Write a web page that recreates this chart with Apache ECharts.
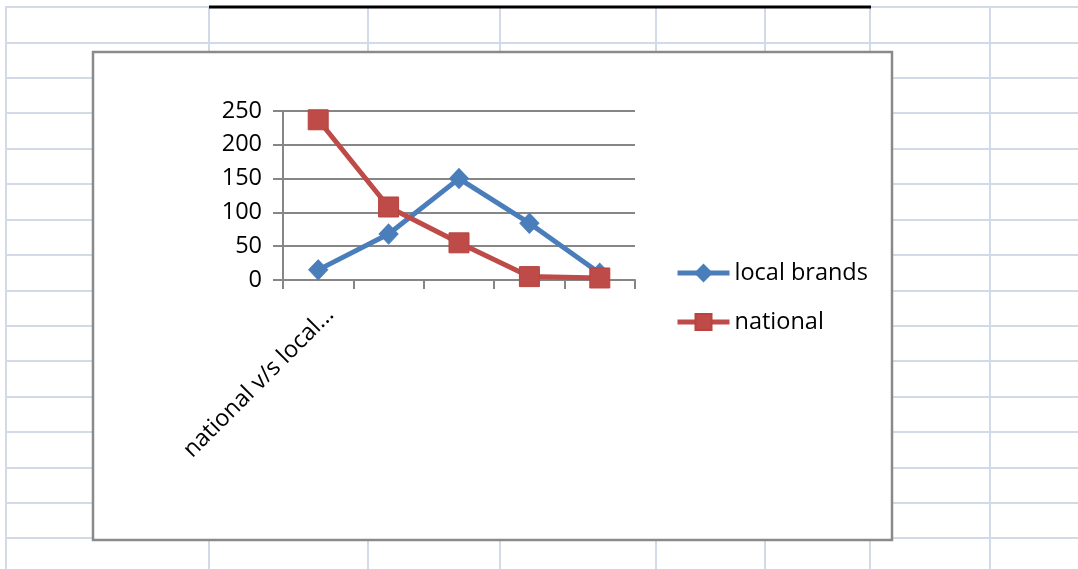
<!DOCTYPE html>
<html>
<head>
<meta charset="utf-8">
<script src="https://cdn.jsdelivr.net/npm/echarts@6/dist/echarts.min.js"></script>
<style>
  html, body { margin: 0; padding: 0; background: #ffffff; }
  #chart { width: 1078px; height: 569px; }
</style>
</head>
<body>
<div id="chart"></div>
<script>
// Chart data
const categories = ['national v/s local...', '', '', '', ''];
const localBrands = [15, 68, 150, 84, 10];
const national = [237, 108, 55, 5, 3];
const seriesNames = ['local brands', 'national'];
const yMin = 0, yMax = 250, yStep = 50;

// Worksheet cell grid behind the chart object (pixel layout)
const sheetRows = [7, 43, 78, 113, 149, 184, 220, 255, 291, 326, 361, 397, 432, 468, 503, 538];
const sheetCols = [6, 209, 368, 500, 656, 765, 870, 990];

const FONT = 'Open Sans';
const FONT_SIZE = 23.5;
const AXIS_GREY = '#868686';
const BLUE = '#4a7ebb';
const RED = '#be4b48';
const LINE_W = 5;

const sheetGraphics = [];
sheetRows.forEach(function (y) {
  sheetGraphics.push({
    type: 'line', z: -20, silent: true,
    shape: { x1: 6, y1: y, x2: 1078, y2: y },
    style: { stroke: '#d3dae7', lineWidth: 2 }
  });
});
sheetCols.forEach(function (x) {
  sheetGraphics.push({
    type: 'line', z: -20, silent: true,
    shape: { x1: x, y1: 6, x2: x, y2: 569 },
    style: { stroke: '#d3dae7', lineWidth: 2 }
  });
});
// selected-range border along the top row
sheetGraphics.push({
  type: 'line', z: -19, silent: true,
  shape: { x1: 209, y1: 7, x2: 871, y2: 7 },
  style: { stroke: '#000000', lineWidth: 3 }
});
// chart object frame
sheetGraphics.push({
  type: 'rect', z: -10, silent: true,
  shape: { x: 93, y: 52, width: 799, height: 488 },
  style: { fill: '#ffffff', stroke: '#8a8a8a', lineWidth: 2.5 }
});

const chart = echarts.init(document.getElementById('chart'), null, { renderer: 'canvas' });

chart.setOption({
  animation: false,
  backgroundColor: 'transparent',
  textStyle: { fontFamily: FONT },
  graphic: { elements: sheetGraphics },
  grid: { left: 283, top: 111, width: 352, height: 169, containLabel: false },
  legend: {
    orient: 'vertical',
    left: 670,
    top: 256,
    itemWidth: 52,
    itemHeight: 20,
    itemGap: 25,
    textStyle: { fontFamily: FONT, fontSize: FONT_SIZE, color: '#000000' },
    lineStyle: { width: LINE_W },
    data: seriesNames
  },
  xAxis: {
    type: 'category',
    data: categories,
    boundaryGap: true,
    axisLine: { show: true, lineStyle: { color: AXIS_GREY, width: 2 } },
    axisTick: { show: true, alignWithLabel: false, interval: 0, length: 9, lineStyle: { color: AXIS_GREY, width: 2 } },
    axisLabel: {
      interval: 0, rotate: 45, margin: 19,
      align: 'right', verticalAlign: 'top', padding: [5, 0, 0, 0],
      fontFamily: FONT, fontSize: FONT_SIZE, color: '#000000'
    },
    splitLine: { show: false }
  },
  yAxis: {
    type: 'value',
    min: yMin, max: yMax, interval: yStep,
    axisLine: { show: true, lineStyle: { color: AXIS_GREY, width: 2 } },
    axisTick: { show: true, length: 10, lineStyle: { color: AXIS_GREY, width: 2 } },
    axisLabel: { margin: 21, fontFamily: FONT, fontSize: FONT_SIZE, color: '#000000' },
    splitLine: { show: true, lineStyle: { color: AXIS_GREY, width: 2 } }
  },
  series: [
    {
      name: seriesNames[0],
      type: 'line',
      data: localBrands,
      symbol: 'diamond',
      symbolSize: [19, 20],
      showAllSymbol: true,
      lineStyle: { color: BLUE, width: LINE_W },
      itemStyle: { color: BLUE, borderColor: BLUE, borderWidth: 1 },
      z: 3
    },
    {
      name: seriesNames[1],
      type: 'line',
      data: national,
      symbol: 'rect',
      symbolSize: 20,
      showAllSymbol: true,
      lineStyle: { color: RED, width: LINE_W },
      itemStyle: { color: RED, borderColor: '#b8433f', borderWidth: 1 },
      z: 4
    }
  ]
});
</script>
</body>
</html>
